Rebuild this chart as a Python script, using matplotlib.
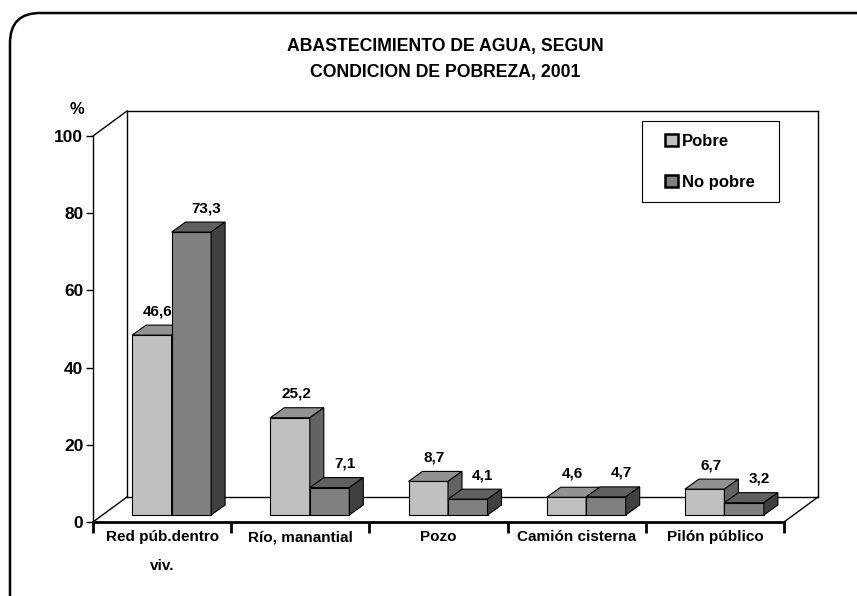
import matplotlib
matplotlib.use('Agg')
import matplotlib.pyplot as plt
from matplotlib.patches import Polygon, Patch, FancyBboxPatch, Rectangle

plt.rcParams['font.family'] = ['Liberation Sans', 'DejaVu Sans']
plt.rcParams['font.weight'] = 'bold'

categories = ['Red púb.dentro\nviv.', 'Río, manantial', 'Pozo', 'Camión cisterna', 'Pilón público']
pobre = [46.6, 25.2, 8.7, 4.6, 6.7]
no_pobre = [73.3, 7.1, 4.1, 4.7, 3.2]
series = ['Pobre', 'No pobre']
yticks = [0, 20, 40, 60, 80, 100]

# face colours: front, top, side
col_pobre = ('#c0c0c0', '#929292', '#636363')
col_nopobre = ('#808080', '#606060', '#404040')

fig = plt.figure(figsize=(8.57, 5.96), dpi=100)
W, H = 857, 596
L, R, T, B = 93, 784, 136, 522
ax = fig.add_axes([L / W, 1 - B / H, (R - L) / W, (B - T) / H])
ax.set_xlim(-0.5, len(categories) - 0.5)
ax.set_ylim(0, 100)

# pixel -> data conversions
px = (len(categories)) / (R - L)
py = 100 / (B - T)

wall_dx, wall_dy = 34 * px, 25 * py
sh_dx, sh_dy = 9.5 * px, 7 * py
bd_dx, bd_dy = 14 * px, 10 * py
bw = 39.5 * px

x0, x1 = -0.5, len(categories) - 0.5
line_kw = dict(color='black', lw=1, clip_on=False, zorder=1)
# back wall and floor
ax.plot([x0 + wall_dx, x1 + wall_dx], [100 + wall_dy, 100 + wall_dy], **line_kw)
ax.plot([x0 + wall_dx, x0 + wall_dx], [wall_dy, 100 + wall_dy], **line_kw)
ax.plot([x1 + wall_dx, x1 + wall_dx], [wall_dy, 100 + wall_dy], **line_kw)
ax.plot([x0 + wall_dx, x1 + wall_dx], [wall_dy, wall_dy], **line_kw)
ax.plot([x0, x0 + wall_dx], [100, 100 + wall_dy], **line_kw)
ax.plot([x0, x0 + wall_dx], [0, wall_dy], **line_kw)
ax.plot([x1, x1 + wall_dx], [0, wall_dy], **line_kw)


def bar3d(xl, v, cols):
    y0 = sh_dy
    x = xl + sh_dx
    front = [(x, y0), (x + bw, y0), (x + bw, y0 + v), (x, y0 + v)]
    top = [(x, y0 + v), (x + bw, y0 + v), (x + bw + bd_dx, y0 + v + bd_dy), (x + bd_dx, y0 + v + bd_dy)]
    side = [(x + bw, y0), (x + bw + bd_dx, y0 + bd_dy), (x + bw + bd_dx, y0 + v + bd_dy), (x + bw, y0 + v)]
    for pts, c in zip([front, top, side], cols):
        ax.add_patch(Polygon(pts, closed=True, facecolor=c, edgecolor='black', lw=0.8, zorder=3, clip_on=False))


for i in range(len(categories)):
    bar3d(i - bw, pobre[i], col_pobre)
    bar3d(i, no_pobre[i], col_nopobre)

for i in range(len(categories)):
    ax.text(i - bw / 2 + sh_dx + 6 * px, sh_dy + pobre[i] + 24 * py, f'{pobre[i]:.1f}'.replace('.', ','),
            ha='center', va='center', fontsize=11, fontweight='bold', zorder=5)
    ax.text(i + bw / 2 + sh_dx + 15 * px, sh_dy + no_pobre[i] + 24 * py, f'{no_pobre[i]:.1f}'.replace('.', ','),
            ha='center', va='center', fontsize=11, fontweight='bold', zorder=5)

# axes
for s in ['top', 'right']:
    ax.spines[s].set_visible(False)
ax.spines['left'].set_linewidth(1)
ax.spines['bottom'].set_linewidth(2)
ax.patch.set_visible(False)
ax.set_yticks(yticks)
ax.set_yticklabels([str(t) for t in yticks], fontsize=12.5, fontweight='bold')
ax.tick_params(axis='y', length=5, width=1, pad=2)
ax.set_xticks(range(len(categories)))
ax.set_xticklabels(categories, fontsize=11, fontweight='bold', linespacing=2.3)
ax.tick_params(axis='x', which='major', length=0, pad=6)
ax.set_xticks([i - 0.5 for i in range(len(categories) + 1)], minor=True)
ax.tick_params(axis='x', which='minor', length=8, width=2)

fig.text(77 / W, 1 - 110 / H, '%', ha='center', va='center', fontsize=12, fontweight='bold')
fig.text(445 / W, 1 - 47 / H, 'ABASTECIMIENTO DE AGUA, SEGUN', ha='center', va='center',
         fontsize=12.7, fontweight='bold')
fig.text(445 / W, 1 - 72 / H, 'CONDICION DE POBREZA, 2001', ha='center', va='center',
         fontsize=12.7, fontweight='bold')

# legend: frame drawn separately so the inner spacing can match
fig.patches.append(Rectangle((642 / W, 1 - 202 / H), (779 - 642) / W, (202 - 121) / H,
                             transform=fig.transFigure, facecolor='white', edgecolor='black', lw=0.8))
handles = [Patch(facecolor=col_pobre[0], edgecolor='black', lw=1.8),
           Patch(facecolor=col_nopobre[0], edgecolor='black', lw=1.8)]
leg = fig.legend(handles, series, loc='upper left', bbox_to_anchor=(665 / W, 1 - 134 / H),
                 frameon=False, fontsize=12, handlelength=0.75, handleheight=0.75,
                 handletextpad=0.25, labelspacing=1.55, borderpad=0, borderaxespad=0)
for t in leg.get_texts():
    t.set_fontweight('bold')

frame = FancyBboxPatch((0.10, -0.5), 9.0, 5.83 + 0.5, boxstyle='round,pad=0,rounding_size=0.3',
                       transform=fig.dpi_scale_trans, facecolor='none', edgecolor='black', lw=1.8)
fig.patches.append(frame)

fig.savefig('out.png', dpi=100)
